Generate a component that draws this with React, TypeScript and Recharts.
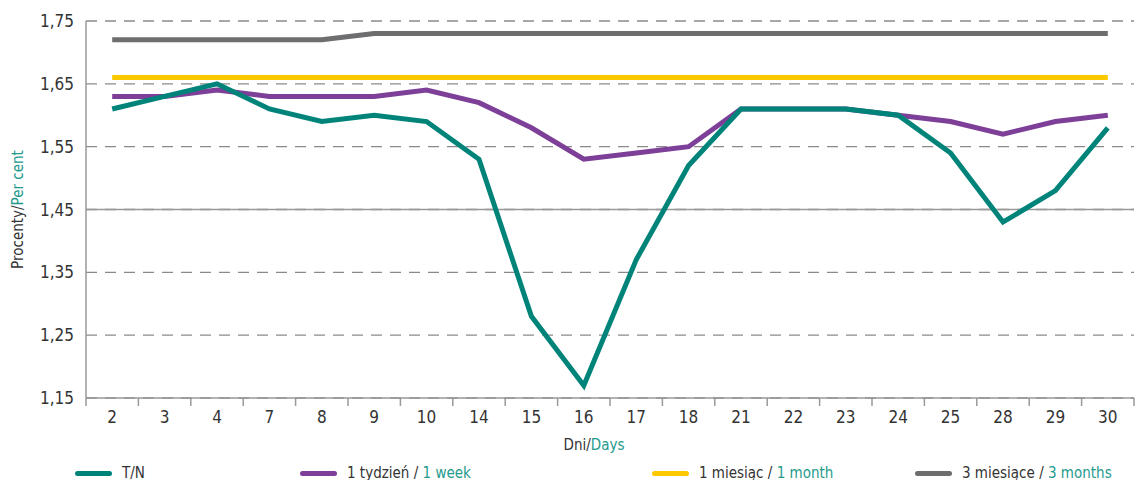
import React from 'react';
import { LineChart, Line, XAxis, YAxis, CartesianGrid, ReferenceLine, Legend } from 'recharts';

const DAYS = ['2', '3', '4', '7', '8', '9', '10', '14', '15', '16', '17', '18', '21', '22', '23', '24', '25', '28', '29', '30'];
const TN = [1.61, 1.63, 1.65, 1.61, 1.59, 1.6, 1.59, 1.53, 1.28, 1.17, 1.37, 1.52, 1.61, 1.61, 1.61, 1.6, 1.54, 1.43, 1.48, 1.58];
const WEEK = [1.63, 1.63, 1.64, 1.63, 1.63, 1.63, 1.64, 1.62, 1.58, 1.53, 1.54, 1.55, 1.61, 1.61, 1.61, 1.6, 1.59, 1.57, 1.59, 1.6];
const MONTH = [1.66, 1.66, 1.66, 1.66, 1.66, 1.66, 1.66, 1.66, 1.66, 1.66, 1.66, 1.66, 1.66, 1.66, 1.66, 1.66, 1.66, 1.66, 1.66, 1.66];
const MONTHS3 = [1.72, 1.72, 1.72, 1.72, 1.72, 1.73, 1.73, 1.73, 1.73, 1.73, 1.73, 1.73, 1.73, 1.73, 1.73, 1.73, 1.73, 1.73, 1.73, 1.73];
const Y_TICKS = [1.15, 1.25, 1.35, 1.45, 1.55, 1.65, 1.75];

const SERIES = [
  { key: 'm3', pl: '3 miesiące /', en: '3 months', color: '#6e6e71' },
  { key: 'm1', pl: '1 miesiąc /', en: '1 month', color: '#fcc800' },
  { key: 'w1', pl: '1 tydzień /', en: '1 week', color: '#7d3f98' },
  { key: 'tn', pl: 'T/N', en: '', color: '#00847a' },
];
const LEGEND_ORDER = ['tn', 'w1', 'm1', 'm3'];
const LEGEND_LEFT = [75, 300, 652, 915];

const data = DAYS.map((d, i) => ({ day: d, tn: TN[i], w1: WEEK[i], m1: MONTH[i], m3: MONTHS3[i] }));

const W = 1137;
const H = 480;
const LEFT = 86;
const RIGHT = 3;
const HALF_STEP = (W - LEFT - RIGHT) / DAYS.length / 2;
const FONT = "'Liberation Sans Narrow', 'DejaVu Sans Condensed', Arial, sans-serif";
const TEAL_TEXT = '#1f9a8d';

const DayTick = (props: any) => {
  const { x, y, payload, index } = props;
  return (
    <g>
      <line x1={x - HALF_STEP} x2={x - HALF_STEP} y1={y} y2={y + 8} stroke="#999" strokeWidth={1.5} />
      {index === DAYS.length - 1 && (
        <line x1={x + HALF_STEP} x2={x + HALF_STEP} y1={y} y2={y + 8} stroke="#999" strokeWidth={1.5} />
      )}
      <text x={x} y={y + 13} dy="0.71em" textAnchor="middle" fill="#333" fontSize={17} fontFamily={FONT}>
        {payload.value}
      </text>
    </g>
  );
};

const LegendBox = () => (
  <div style={{ position: 'relative', height: 24, width: W, fontFamily: FONT, fontSize: 15 }}>
    {LEGEND_ORDER.map((k, i) => {
      const s = SERIES.find((x) => x.key === k)!;
      return (
        <div key={k} style={{ position: 'absolute', left: LEGEND_LEFT[i], top: 8, display: 'flex', alignItems: 'center', whiteSpace: 'nowrap' }}>
          <span style={{ display: 'inline-block', width: 37, height: 5, borderRadius: 3, background: s.color, marginRight: 10 }} />
          <span style={{ color: '#333', whiteSpace: 'pre' }}>
            {s.pl}
            {s.en && ' '}
            {s.en && <span style={{ color: TEAL_TEXT }}>{s.en}</span>}
          </span>
        </div>
      );
    })}
  </div>
);

export default function App() {
  return (
    <div style={{ position: 'absolute', left: 0, top: 0, width: W, height: H, background: '#fff' }}>
      <LineChart width={W} height={H} data={data} margin={{ top: 21, right: RIGHT, left: 0, bottom: 0 }}>
        <CartesianGrid vertical={false} stroke="#8a8a8a" strokeDasharray="11 8" strokeWidth={1.3} />
        <ReferenceLine y={1.45} stroke="#999" strokeWidth={1.3} />
        <XAxis
          dataKey="day"
          padding={{ left: HALF_STEP, right: HALF_STEP }}
          height={58}
          stroke="#999"
          strokeWidth={1.5}
          tickLine={false}
          tickSize={0}
          tickMargin={0}
          interval={0}
          tick={<DayTick />}
          label={{
            content: (p: any) => {
              const vb = p.viewBox;
              return (
                <text x={vb.x + vb.width / 2 - 16} y={vb.y + 52} textAnchor="middle" fontSize={15} fontFamily={FONT} fill="#333">
                  Dni/<tspan fill={TEAL_TEXT}>Days</tspan>
                </text>
              );
            },
          }}
        />
        <YAxis
          domain={[1.15, 1.75]}
          ticks={Y_TICKS}
          width={LEFT}
          stroke="#999"
          strokeWidth={1.5}
          tickLine={false}
          tickSize={10}
          tickMargin={2}
          tick={{ fill: '#333', fontSize: 17, fontFamily: FONT }}
          tickFormatter={(v: number) => v.toFixed(2).replace('.', ',')}
          label={{
            content: (p: any) => {
              const vb = p.viewBox;
              const cy = vb.y + vb.height / 2;
              return (
                <text x={18} y={cy} transform={`rotate(-90 18 ${cy})`} textAnchor="middle" dominantBaseline="central" fontSize={15} fontFamily={FONT} fill="#333">
                  Procenty/<tspan fill={TEAL_TEXT}>Per cent</tspan>
                </text>
              );
            },
          }}
        />
        <Legend verticalAlign="bottom" height={24} content={<LegendBox />} wrapperStyle={{ left: 0, bottom: 0, width: W, height: 24 }} />
        {SERIES.map((s) => (
          <Line key={s.key} type="linear" dataKey={s.key} stroke={s.color} strokeWidth={5} dot={false} activeDot={false} isAnimationActive={false} />
        ))}
      </LineChart>
    </div>
  );
}
